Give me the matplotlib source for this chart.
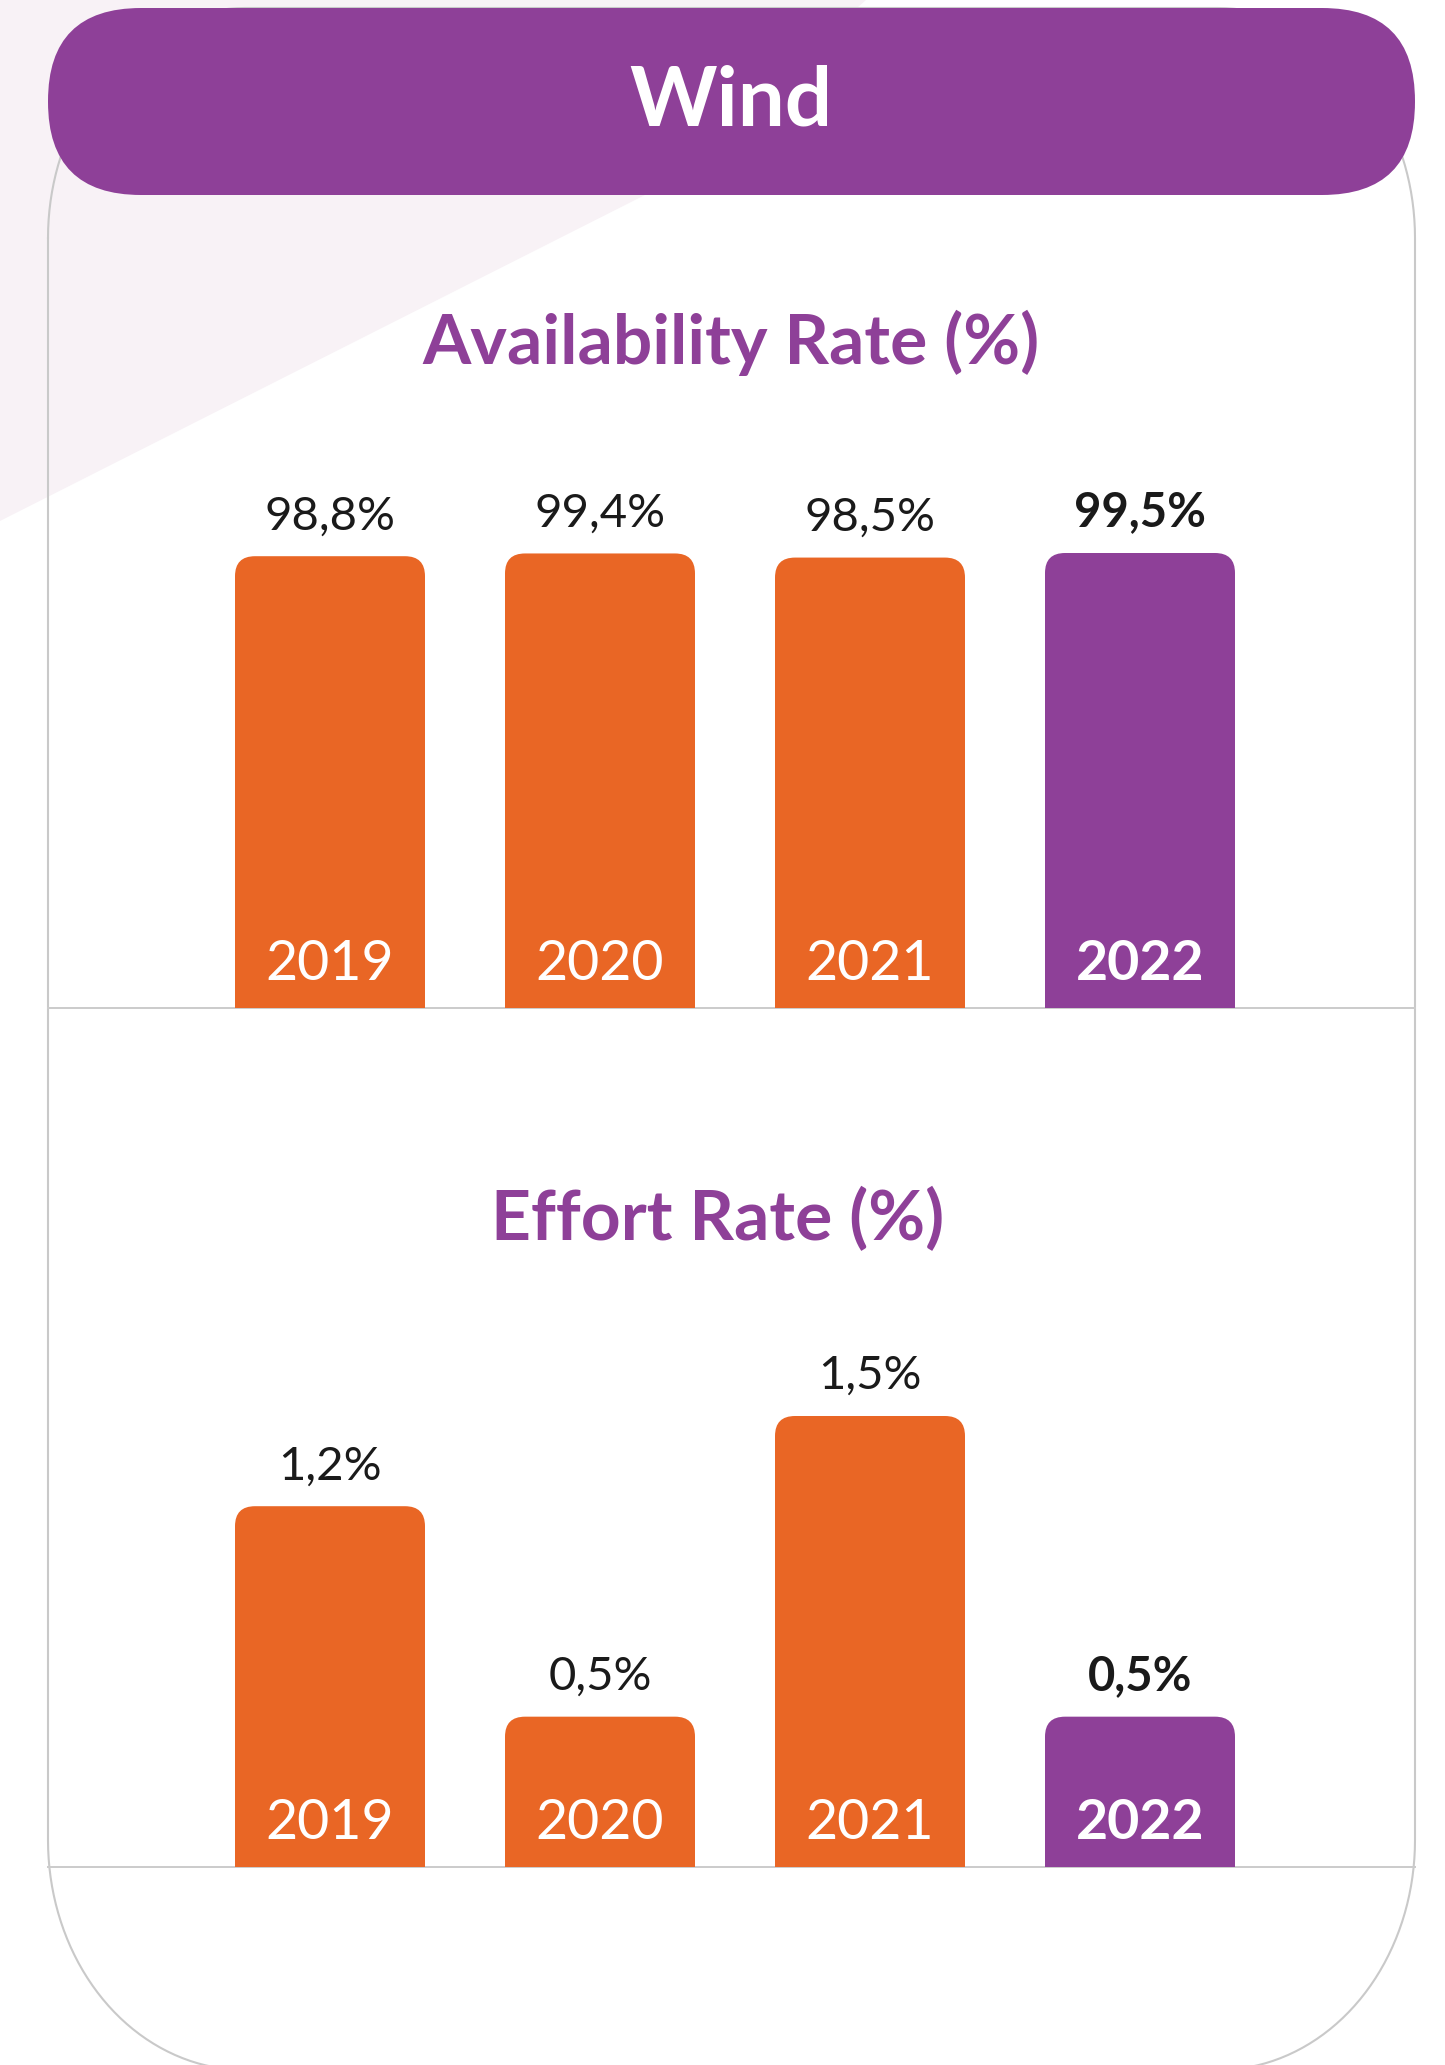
import matplotlib
matplotlib.use("Agg")
import matplotlib.pyplot as plt
import numpy as np
from matplotlib.patches import FancyBboxPatch, Polygon

# data
years = ["2019", "2020", "2021", "2022"]
availability = [98.8, 99.4, 98.5, 99.5]
effort = [1.2, 0.5, 1.5, 0.5]
avail_labels = ["98,8%", "99,4%", "98,5%", "99,5%"]
effort_labels = ["1,2%", "0,5%", "1,5%", "0,5%"]
highlight = [False, False, False, True]

ORANGE = "#E96625"
PURPLE = "#8E4098"
LINE_GRAY = "#cccccc"
W, H = 1445, 2065
PT = 0.72  # points per pixel at dpi 100

plt.rcParams["font.family"] = ["Lato", "DejaVu Sans"]

fig = plt.figure(figsize=(W / 100, H / 100), dpi=100)

# background layer in pixel coordinates
bg = fig.add_axes([0, 0, 1, 1])
bg.set_xlim(0, W)
bg.set_ylim(H, 0)
bg.axis("off")

bg.add_patch(Polygon([(0, 0), (866, 0), (645, 195), (0, 521)], closed=True,
                     fc="#f8f2f6", lw=0, zorder=0))


def card_outline(x0, y0, x1, y1, rx, ry):
    t = np.linspace(0, np.pi / 2, 40)
    xs, ys = [], []
    # corners: top-left, top-right, bottom-right, bottom-left (y grows downward)
    for cx, cy, sx, sy in [(x0 + rx, y0 + ry, -1, -1), (x1 - rx, y0 + ry, 1, -1),
                           (x1 - rx, y1 - ry, 1, 1), (x0 + rx, y1 - ry, -1, 1)]:
        tt = t if sx * sy > 0 else t[::-1]
        xs += list(cx + sx * rx * np.cos(tt))
        ys += list(cy + sy * ry * np.sin(tt))
    return xs + xs[:1], ys + ys[:1]


cx, cy = card_outline(48, 8, 1415, 2070, 197, 230)
bg.plot(cx, cy, color="#c9c9c9", lw=1.5, zorder=1)

bg.add_patch(FancyBboxPatch((48, 8), 1367, 187,
                            boxstyle="round,pad=0,rounding_size=93",
                            fc=PURPLE, lw=0, zorder=2))
bg.text(731, 126, "Wind", ha="center", va="baseline", fontsize=60,
        weight="bold", color="white", zorder=3)

bg.text(731, 364, "Availability Rate (%)", ha="center", va="baseline",
        fontsize=50, weight="bold", color=PURPLE)
bg.text(718, 1240, "Effort Rate (%)", ha="center", va="baseline",
        fontsize=50, weight="bold", color=PURPLE)

for yb in (1008, 1867):
    bg.plot([48, 1415], [yb, yb], color=LINE_GRAY, lw=2 * PT, zorder=1)


def bar_panel(baseline, px_per_unit, values, labels):
    ax = fig.add_axes([0, (H - baseline) / H, 1, 600 / H])
    ax.set_xlim(-330 / 270, (W - 330) / 270)
    ax.set_ylim(0, 600 / px_per_unit)
    ax.axis("off")
    colors = [PURPLE if h else ORANGE for h in highlight]
    bars = ax.bar(range(len(years)), values, width=190 / 270, color=colors)
    r = 20 / 270
    asp = 270 / px_per_unit
    for b, c in zip(bars, colors):
        b.set_visible(False)
        ax.add_patch(FancyBboxPatch((b.get_x(), -r * asp), b.get_width(),
                                    b.get_height() + r * asp,
                                    boxstyle=f"round,pad=0,rounding_size={r}",
                                    mutation_aspect=asp, fc=c, lw=0))
    for i, (v, lbl, yr, h) in enumerate(zip(values, labels, years, highlight)):
        wt = "bold" if h else "normal"
        ax.annotate(lbl, (i, v), xytext=(0, 27 * PT), textcoords="offset points",
                    ha="center", va="baseline", fontsize=34, weight=wt,
                    color="#1a1a1a", annotation_clip=False)
        ax.annotate(yr, (i, 0), xytext=(0, 28 * PT), textcoords="offset points",
                    ha="center", va="baseline", fontsize=40, weight=wt,
                    color="white", annotation_clip=False)
    return ax


bar_panel(1008, 455 / 99.5, availability, avail_labels)
bar_panel(1867, 451 / 1.5, effort, effort_labels)

fig.savefig("out.png", dpi=100)
